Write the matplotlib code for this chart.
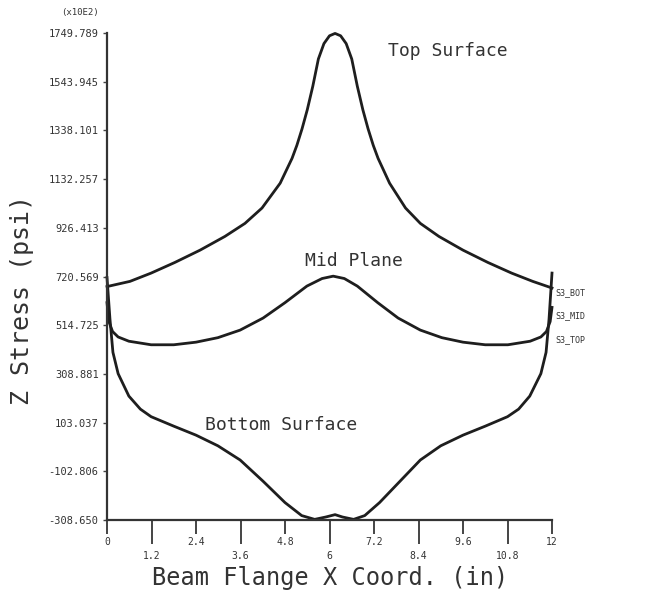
import matplotlib
matplotlib.use("Agg")
import matplotlib.pyplot as plt

# ---- data ----
top_x = [0.0, 0.62, 1.19, 1.83, 2.51, 3.18, 3.72, 4.18, 4.67, 4.99, 5.12, 5.26, 5.4, 5.55,
         5.7, 5.85, 6.0, 6.15, 6.3, 6.45, 6.6, 6.75, 6.9, 7.04, 7.18, 7.31, 7.62, 8.05,
         8.45, 8.95, 9.6, 10.27, 10.91, 11.48, 12.0]
top_y = [678, 700, 735, 780, 832, 890, 945, 1010, 1115, 1220, 1275, 1345, 1425, 1525,
         1640, 1705, 1738, 1748, 1738, 1705, 1640, 1525, 1425, 1345, 1275, 1220, 1115, 1010,
         945, 890, 832, 780, 735, 700, 672]

mid_x = [0.0, 0.05, 0.15, 0.3, 0.59, 1.19, 1.8, 2.4, 2.99, 3.59, 4.21, 4.8, 5.39, 5.8,
         6.1, 6.4, 6.75, 7.3, 7.85, 8.45, 9.03, 9.6, 10.2, 10.81, 11.41, 11.7, 11.85,
         11.95, 12.0]
mid_y = [610, 530, 488, 465, 447, 432, 432, 443, 462, 494, 545, 610, 680, 712,
         722, 712, 680, 610, 545, 494, 462, 443, 432, 432, 447, 465, 488,
         530, 590]

bot_x = [0.0, 0.08, 0.16, 0.3, 0.59, 0.9, 1.19, 1.8, 2.4, 2.99, 3.59, 4.21, 4.8, 5.25,
         5.6, 5.9, 6.15, 6.35, 6.65, 6.95, 7.35, 7.9, 8.45, 9.0, 9.6, 10.2, 10.8, 11.1, 11.4,
         11.7, 11.84, 11.92, 12.0]
bot_y = [716, 540, 400, 310, 215, 160, 128, 88, 50, 5, -55, -145, -235, -290,
         -306, -296, -286, -296, -306, -290, -235, -145, -55, 5, 50, 88, 128, 160, 215,
         310, 400, 540, 735]

xticks_upper = [0, 2.4, 4.8, 7.2, 9.6, 12]
xlabels_upper = ["0", "2.4", "4.8", "7.2", "9.6", "12"]
xticks_lower = [1.2, 3.6, 6, 8.4, 10.8]
xlabels_lower = ["1.2", "3.6", "6", "8.4", "10.8"]
yticks = [-308.650, -102.806, 103.037, 308.881, 514.725, 720.569, 926.413,
          1132.257, 1338.101, 1543.945, 1749.789]
ytick_labels = ["-308.650", "-102.806", "103.037", "308.881", "514.725", "720.569",
                "926.413", "1132.257", "1338.101", "1543.945", "1749.789"]

curve_names = ["S3_BOT", "S3_MID", "S3_TOP"]

# ---- figure ----
W, H = 646, 606
fig = plt.figure(figsize=(W / 100, H / 100), dpi=100)
left, right, top, bottom = 107, 552, 33, 520
ax = fig.add_axes([left / W, 1 - bottom / H, (right - left) / W, (bottom - top) / H])

lc = "#1e1e1e"
for xs, ys in [(top_x, top_y), (mid_x, mid_y), (bot_x, bot_y)]:
    ax.plot(xs, ys, color=lc, lw=2.0, solid_joinstyle="round", clip_on=False)

ax.set_xlim(0, 12)
ax.set_ylim(yticks[0], yticks[-1])
for s in ["top", "right"]:
    ax.spines[s].set_visible(False)
for s in ["left", "bottom"]:
    ax.spines[s].set_linewidth(1.6)
    ax.spines[s].set_color("#333333")

mono = "DejaVu Sans Mono"
ax.set_xticks(xticks_upper)
ax.set_xticklabels(xlabels_upper, fontsize=7, family=mono, color="#333333")
ax.set_xticks(xticks_lower, minor=True)
ax.set_xticklabels(xlabels_lower, minor=True, fontsize=7, family=mono, color="#333333")
ax.tick_params(axis="x", which="major", direction="out", length=10, width=1.4, pad=2,
               color="#444444")
ax.tick_params(axis="x", which="minor", direction="out", length=17, width=1.4, pad=5,
               color="#444444")
ax.set_yticks(yticks)
ax.set_yticklabels(ytick_labels, fontsize=7.5, family=mono, color="#333333")
ax.tick_params(axis="y", direction="out", length=3, width=1.0, pad=3, color="#444444")

txt = dict(family=mono, color="#333333")
ax.text(7.58, 1673, "Top Surface", fontsize=13, va="center", ha="left", **txt)
ax.text(5.34, 784, "Mid Plane", fontsize=13, va="center", ha="left", **txt)
ax.text(2.64, 93, "Bottom Surface", fontsize=13, va="center", ha="left", **txt)

for name, yv in zip(curve_names, [653, 554, 454]):
    ax.text(12.1, yv, name, fontsize=6, va="center", ha="left", **txt)

fig.text(80 / W, 1 - 13 / H, "(x10E2)", fontsize=6.5, ha="center", va="center", **txt)
fig.text(22 / W, 1 - 300 / H, "Z Stress (psi)", fontsize=18, rotation=90,
         ha="center", va="center", **txt)
fig.text(330 / W, 1 - 578 / H, "Beam Flange X Coord. (in)", fontsize=17,
         ha="center", va="center", **txt)

fig.savefig("out.png", dpi=100)
